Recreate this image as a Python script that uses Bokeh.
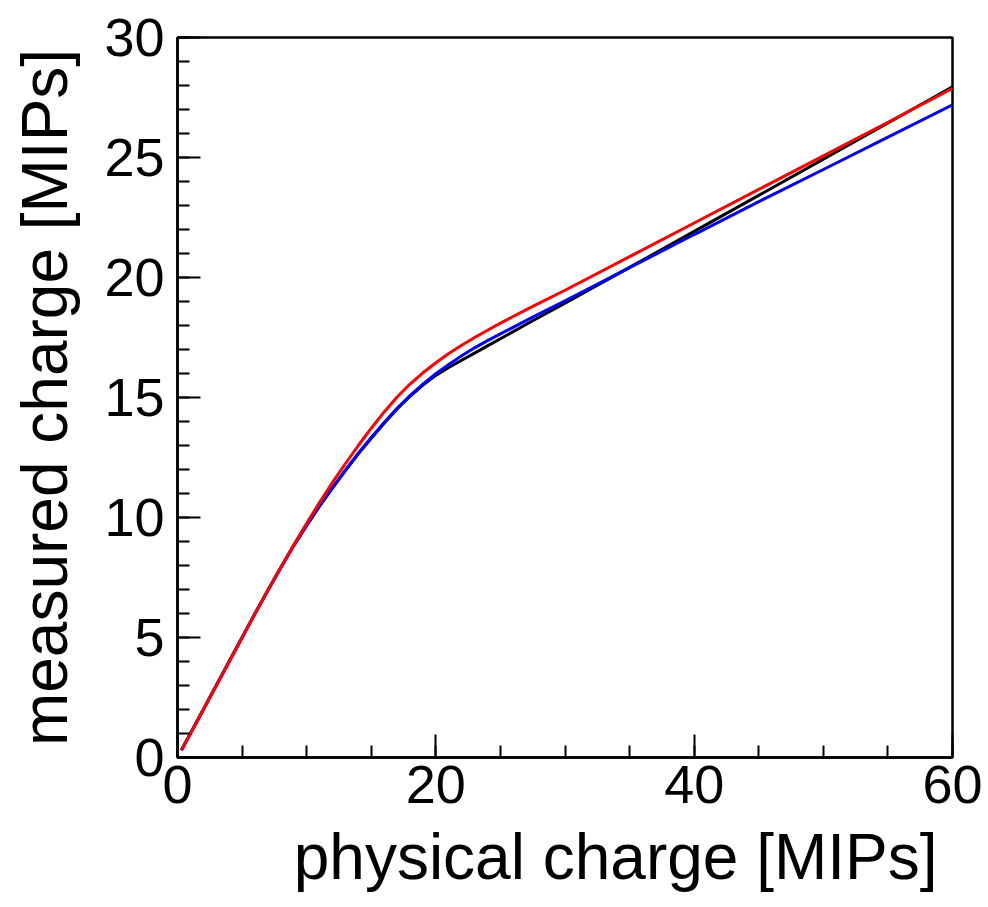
from bokeh.plotting import figure
from bokeh.models import Range1d, FixedTicker, Title
from bokeh.embed import file_html
from bokeh.resources import INLINE

# physical charge [MIPs]
x_vals = [0.3, 2, 4, 6, 7, 8, 9, 10, 11, 12, 13, 14, 15, 16, 17, 18, 19, 20,
          21, 22, 23, 24, 25, 27.5, 30, 35, 40, 45, 50, 55, 60]

# measured charge [MIPs] per curve
black_y = [0.3, 2.0, 4.0, 6.0, 6.97, 7.92, 8.82, 9.67, 10.47, 11.22, 11.95, 12.65,
           13.3, 13.93, 14.52, 15.05, 15.52, 15.92, 16.25, 16.55, 16.85, 17.15,
           17.45, 18.2, 18.93, 20.42, 21.92, 23.42, 24.93, 26.44, 27.95]
blue_y = [0.3, 2.0, 4.0, 6.0, 6.97, 7.92, 8.83, 9.68, 10.49, 11.24, 11.98, 12.68,
          13.33, 13.96, 14.55, 15.08, 15.56, 15.99, 16.38, 16.74, 17.07, 17.37,
          17.65, 18.35, 19.03, 20.41, 21.79, 23.16, 24.5, 25.85, 27.19]
red_y = [0.3, 2.0, 4.0, 6.0, 6.98, 7.93, 8.86, 9.76, 10.63, 11.46, 12.25, 13.0,
         13.72, 14.4, 15.02, 15.56, 16.03, 16.45, 16.83, 17.18, 17.5, 17.8,
         18.1, 18.8, 19.47, 20.87, 22.27, 23.67, 25.07, 26.47, 27.88]

x_major = [0, 20, 40, 60]
x_minor = list(range(0, 61, 5))
y_major = [0, 5, 10, 15, 20, 25, 30]
y_minor = list(range(0, 31))

x_title = "physical charge [MIPs]"
y_title = "measured charge [MIPs]"

FONT = "Liberation Sans"

p = figure(width=988, height=907, output_backend="svg", toolbar_location=None,
           x_range=Range1d(0, 60), y_range=Range1d(0, 30),
           min_border_left=177, min_border_right=36, min_border_top=37,
           min_border_bottom=150)
p.grid.visible = False
p.background_fill_color = "white"
p.border_fill_color = "white"
p.outline_line_color = "black"
p.outline_line_width = 2.5

p.xaxis.ticker = FixedTicker(ticks=x_major, minor_ticks=x_minor)
p.yaxis.ticker = FixedTicker(ticks=y_major, minor_ticks=y_minor)

for ax in (p.xaxis[0], p.yaxis[0]):
    ax.axis_line_width = 2.5
    ax.axis_line_color = "black"
    ax.major_tick_in = 23
    ax.major_tick_out = 0
    ax.minor_tick_in = 12
    ax.minor_tick_out = 0
    ax.major_tick_line_width = 2
    ax.minor_tick_line_width = 2
    ax.major_tick_line_color = "black"
    ax.minor_tick_line_color = "black"
    ax.major_label_text_font = FONT
    ax.major_label_text_font_size = "54px"
    ax.major_label_text_color = "black"
p.xaxis.major_label_standoff = 8
p.yaxis.major_label_standoff = 13

p.yaxis.axis_label = y_title
p.yaxis.axis_label_text_font = FONT
p.yaxis.axis_label_text_font_size = "64px"
p.yaxis.axis_label_text_font_style = "normal"
p.yaxis.axis_label_text_color = "black"
p.yaxis.axis_label_standoff = 20

p.add_layout(Title(text=x_title, align="right", offset=15, standoff=27,
                   text_font=FONT, text_font_size="64px",
                   text_font_style="normal", text_color="black"), "below")

p.line(x_vals, black_y, line_color="black", line_width=3)
p.line(x_vals, blue_y, line_color="blue", line_width=3)
p.line(x_vals, red_y, line_color="red", line_width=3)

open("out.html", "w").write(file_html(p, INLINE))
